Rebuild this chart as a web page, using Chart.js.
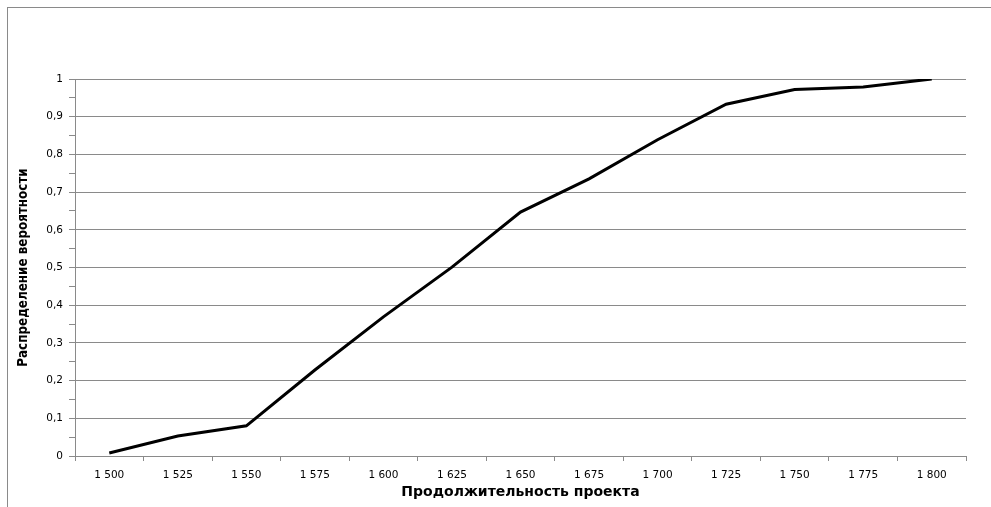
<!DOCTYPE html>
<html>
<head>
<meta charset="utf-8">
<script src="https://cdn.jsdelivr.net/npm/chart.js@4/dist/chart.umd.min.js"></script>
<style>
  html, body { margin: 0; padding: 0; background: #fff; }
  canvas { display: block; }
</style>
</head>
<body>
<canvas id="chart" width="991" height="507"></canvas>
<script>
// project duration categories and cumulative probability
const durationLabels = ['1 500', '1 525', '1 550', '1 575', '1 600', '1 625', '1 650',
                        '1 675', '1 700', '1 725', '1 750', '1 775', '1 800'];
const probability = [0.008, 0.053, 0.08, 0.228, 0.369, 0.501, 0.647,
                     0.735, 0.839, 0.933, 0.972, 0.979, 1.0];
const xTitle = 'Продолжительность проекта';
const yTitle = 'Распределение вероятности';

const gray = '#8a8a8a';

// excel-like outer frame
const frame = {
    id: 'frame',
    beforeDraw(chart) {
        const c = chart.ctx;
        c.save();
        c.fillStyle = '#fff';
        c.fillRect(0, 0, chart.width, chart.height);
        c.strokeStyle = gray;
        c.lineWidth = 1;
        c.strokeRect(7.5, 7.5, chart.width + 10, chart.height + 10);
        c.restore();
    }
};

const ctx = document.getElementById('chart').getContext('2d');
const chart = new Chart(ctx, {
    type: 'line',
    data: {
        labels: durationLabels,
        datasets: [
            {
                data: probability,
                borderColor: '#000',
                borderWidth: 3,
                pointRadius: 0,
                pointHoverRadius: 0,
                tension: 0,
                fill: false,
            },
        ]},
    options:
    {
        responsive: false,
        animation: false,
        layout:
        {
            padding: { left: 0, right: 25, top: 79, bottom: 0 }
        },
        plugins:
        {
            legend: { display: false },
            tooltip: { enabled: false },
        },
        scales:
        {
            x:
            {
                offset: true,
                grid:
                {
                    offset: true,
                    drawOnChartArea: false,
                    drawTicks: true,
                    tickLength: 5,
                    tickColor: gray,
                },
                border: { color: gray, width: 1 },
                ticks:
                {
                    color: '#000',
                    padding: 8,
                    maxRotation: 0,
                    font: { family: 'DejaVu Sans', size: 10.5 },
                },
                title:
                {
                    display: true,
                    text: xTitle,
                    color: '#000',
                    padding: { top: 0, bottom: 6 },
                    font: { family: 'DejaVu Sans', size: 14, weight: 'bold' },
                },
                afterFit(scale) { scale.height = 51; },
            },
            y:
            {
                min: 0,
                max: 1,
                grid:
                {
                    color: (c) => (Math.round(c.tick.value * 20) % 2 === 0 ? gray : 'rgba(0,0,0,0)'),
                    tickColor: gray,
                    tickLength: 6,
                },
                border: { color: gray, width: 1 },
                ticks:
                {
                    stepSize: 0.05,
                    color: '#000',
                    padding: 6,
                    font: { family: 'DejaVu Sans', size: 10.5 },
                    callback: (v) => (Math.round(v * 20) % 2 === 0
                        ? String(Math.round(v * 10) / 10).replace('.', ',') : ''),
                },
                title:
                {
                    display: true,
                    text: yTitle,
                    color: '#000',
                    padding: { top: 16, bottom: 0 },
                    font: { family: "'DejaVu Sans Condensed', 'Liberation Sans'", size: 13.3, weight: 'bold' },
                },
                afterFit(scale) { scale.width = 75; },
            },
        },
    },
    plugins: [frame]
});
</script>
</body>
</html>
